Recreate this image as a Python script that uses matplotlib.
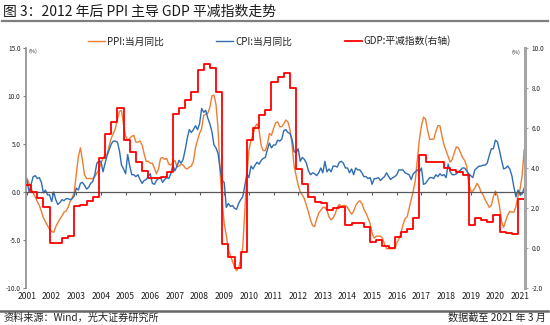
import numpy as np
import matplotlib
matplotlib.use('Agg')
import matplotlib.pyplot as plt
from matplotlib.lines import Line2D

plt.rcParams['font.family'] = ['Noto Sans CJK SC', 'DejaVu Sans']

# PPI 当月同比，2001-01 ~ 2021-03
ppi = [1.4, 0.9, 0.4, -0.1, -0.5, -1.0, -1.4, -2.0, -2.7, -3.1, -3.5, -3.9,
       -4.1, -4.2, -3.6, -3.2, -2.8, -2.5, -2.1, -2.0, -1.6, -1.0, -0.6, 0.0,
       1.9, 3.7, 4.6, 3.3, 1.8, 1.4, 1.4, 1.4, 1.4, 1.6, 2.0, 2.3,
       3.0, 3.5, 3.9, 3.9, 4.8, 5.6, 6.1, 6.6, 7.6, 8.4, 8.5, 7.0,
       5.8, 5.4, 5.6, 5.8, 5.9, 5.2, 5.2, 5.3, 4.9, 4.0, 3.2, 3.2,
       3.0, 3.0, 2.5, 1.9, 2.4, 3.5, 3.6, 3.4, 3.5, 2.9, 2.8, 3.1,
       3.3, 2.6, 2.7, 2.9, 2.8, 2.5, 2.4, 2.6, 2.7, 3.2, 4.6, 5.4,
       6.1, 6.6, 8.0, 8.1, 8.2, 8.8, 10.0, 10.1, 9.1, 6.6, 2.0, -1.1,
       -3.3, -4.5, -6.0, -6.6, -7.2, -7.8, -8.2, -7.9, -7.0, -5.8, -2.1, 1.7,
       4.3, 5.4, 5.9, 6.8, 7.1, 6.4, 4.8, 4.3, 4.3, 5.0, 6.1, 5.9,
       6.6, 7.2, 7.3, 6.8, 6.8, 7.1, 7.5, 7.3, 6.5, 5.0, 2.7, 1.7,
       0.7, 0.0, -0.3, -0.7, -1.4, -2.1, -2.9, -3.5, -3.6, -2.8, -2.2, -1.9,
       -1.6, -1.6, -1.9, -2.6, -2.9, -2.7, -2.3, -1.6, -1.3, -1.5, -1.4, -1.4,
       -1.6, -2.0, -2.3, -2.0, -1.4, -1.1, -0.9, -1.2, -1.8, -2.2, -2.7, -3.3,
       -4.3, -4.8, -4.6, -4.6, -4.6, -4.8, -5.4, -5.9, -5.9, -5.9, -5.9, -5.9,
       -5.3, -4.9, -4.3, -3.4, -2.8, -2.6, -1.7, -0.8, 0.1, 1.2, 3.3, 5.5,
       6.9, 7.8, 7.6, 6.4, 5.5, 5.5, 5.5, 6.3, 6.9, 6.9, 5.8, 4.9,
       4.3, 3.7, 3.1, 3.4, 4.1, 4.7, 4.6, 4.1, 3.6, 3.3, 2.7, 0.9,
       0.1, 0.1, 0.4, 0.9, 0.6, 0.0, -0.3, -0.8, -1.2, -1.6, -1.4, -0.5,
       0.1, -0.4, -1.5, -3.1, -3.7, -3.0, -2.4, -2.0, -2.1, -2.1, -1.5, -0.4,
       0.3, 1.7, 4.4]

# CPI 当月同比，2001-01 ~ 2021-03
cpi = [1.2, 0.0, 0.8, 1.6, 1.7, 1.4, 1.5, 1.0, -0.1, 0.2, -0.3, -0.3,
       -1.0, 0.0, -0.8, -1.3, -1.1, -0.8, -0.9, -0.7, -0.7, -0.8, -0.7, -0.4,
       0.4, 0.2, 0.9, 1.0, 0.7, 0.3, 0.5, 0.9, 1.1, 1.8, 3.0, 3.2,
       3.2, 2.1, 3.0, 3.8, 4.4, 5.0, 5.3, 5.3, 5.2, 4.3, 2.8, 2.4,
       1.9, 3.9, 2.7, 1.8, 1.8, 1.6, 1.8, 1.3, 0.9, 1.2, 1.3, 1.6,
       1.9, 0.9, 0.8, 1.2, 1.4, 1.5, 1.0, 1.3, 1.5, 1.4, 1.9, 2.8,
       2.2, 2.7, 3.3, 3.0, 3.4, 4.4, 5.6, 6.5, 6.2, 6.5, 6.9, 6.5,
       7.1, 8.7, 8.3, 8.5, 7.7, 7.1, 6.3, 4.9, 4.6, 4.0, 2.4, 1.2,
       1.0, -1.6, -1.2, -1.5, -1.4, -1.7, -1.8, -1.2, -0.8, -0.5, 0.6, 1.9,
       1.5, 2.7, 2.4, 2.8, 3.1, 2.9, 3.3, 3.5, 3.6, 4.4, 5.1, 4.6,
       4.9, 4.9, 5.4, 5.3, 5.5, 6.4, 6.5, 6.2, 6.1, 5.5, 4.2, 4.1,
       4.5, 3.2, 3.6, 3.4, 3.0, 2.2, 1.8, 2.0, 1.9, 1.7, 2.0, 2.5,
       2.0, 3.2, 2.1, 2.4, 2.1, 2.7, 2.7, 2.6, 3.1, 3.2, 3.0, 2.5,
       2.5, 2.0, 2.4, 1.8, 2.5, 2.3, 2.3, 2.0, 1.6, 1.6, 1.4, 1.5,
       0.8, 1.4, 1.4, 1.5, 1.2, 1.4, 1.6, 2.0, 1.6, 1.3, 1.5, 1.6,
       1.8, 2.3, 2.3, 2.3, 2.0, 1.9, 1.8, 1.3, 1.9, 2.1, 2.3, 2.1,
       2.5, 0.8, 0.9, 1.2, 1.5, 1.5, 1.4, 1.8, 1.6, 1.9, 1.7, 1.8,
       1.5, 2.9, 2.1, 1.8, 1.8, 1.9, 2.1, 2.3, 2.5, 2.5, 2.2, 1.9,
       1.7, 1.5, 2.3, 2.5, 2.7, 2.7, 2.8, 2.8, 3.0, 3.8, 4.5, 4.5,
       5.4, 5.2, 4.3, 3.3, 2.4, 2.5, 2.7, 2.4, 1.7, 0.5, -0.5, 0.2,
       -0.3, -0.2, 0.4]

# GDP 平减指数（季度，2000-12 起每季末一个值），右轴
gdp = [3.15,
       2.82, 2.48, 2.07, 0.23,
       0.27, 0.48, 0.62, 2.10,
       2.15, 2.35, 2.57, 4.50,
       5.70, 6.30, 7.00, 5.40,
       4.82, 4.32, 3.85, 3.50,
       3.50, 3.57, 3.80, 6.70,
       7.00, 7.40, 7.80, 8.90,
       9.20, 9.00, 7.80, 0.20,
       -0.45, -1.00, -0.20, 5.40,
       6.00, 6.65, 6.90, 8.30,
       8.57, 8.73, 8.00, 3.95,
       3.20, 2.57, 2.32, 2.25,
       1.90, 2.00, 2.07, 1.15,
       1.25, 1.25, 1.05, 0.30,
       0.40, 0.12, 0.00, 0.57,
       0.80, 0.95, 1.50, 4.65,
       4.32, 4.30, 4.30, 4.00,
       3.90, 3.80, 3.65, 1.15,
       1.48, 1.40, 1.32, 1.65,
       0.82, 0.75, 0.70, 2.45]

years = list(range(2001, 2022))

c_ppi = '#ED7D31'
c_cpi = '#2E6DB4'
c_gdp = '#FF0000'

month_x = 2001 + np.arange(len(ppi)) / 12
q_x = 2000 + 11 / 12 + np.arange(len(gdp)) * 0.25
q_x = np.append(q_x, month_x[-1])
q_y = np.append(gdp, gdp[-1])

fig = plt.figure(figsize=(5.5, 3.25), dpi=100)
ax = fig.add_axes([26 / 550, 1 - 288 / 325, 499 / 550, 240 / 325])

ax.plot(month_x, ppi, color=c_ppi, lw=1.0)
ax.plot(month_x, cpi, color=c_cpi, lw=1.0)

ax.set_xlim(2001 - 1 / 24.65, 2021.2)
ax.set_ylim(-10, 15)
ax.set_yticks(np.arange(-10, 16, 5))
ax.set_yticklabels([f'{v:.1f}' for v in np.arange(-10, 16, 5)])
ax.tick_params(axis='y', direction='out', length=2.5, width=0.8,
               color='#808080', labelsize=4.6, pad=1.5, labelcolor='#222222')

# x 轴放在 0 线上，年份标签放在底部
ax.spines['top'].set_visible(False)
ax.spines['right'].set_visible(False)
ax.spines['left'].set_color('#8c8c8c')
ax.spines['left'].set_linewidth(1.2)
ax.spines['bottom'].set_position(('data', 0))
ax.spines['bottom'].set_color('#595959')
ax.spines['bottom'].set_linewidth(0.9)
ax.set_xticks(years)
ax.tick_params(axis='x', direction='out', length=2.5, width=0.8,
               color='#595959', labelbottom=False)

sec = ax.secondary_xaxis('bottom')
sec.set_xticks(years)
sec.set_xticklabels([str(y) for y in years])
sec.tick_params(axis='x', length=0, pad=3.2, labelsize=6.2,
                labelcolor='#222222')
sec.spines['bottom'].set_visible(False)

ax2 = ax.twinx()
ax2.step(q_x, q_y, where='post', color=c_gdp, lw=1.3)
ax2.set_ylim(-2, 10)
ax2.set_yticks(np.arange(-2, 11, 2))
ax2.set_yticklabels([f'{v:.1f}' for v in np.arange(-2, 11, 2)])
ax2.tick_params(axis='y', direction='out', length=2.5, width=0.8,
                color='#a0a0a0', labelsize=4.6, pad=2, labelcolor='#222222')
for s in ['top', 'left', 'bottom']:
    ax2.spines[s].set_visible(False)
ax2.spines['right'].set_color('#a6a6a6')
ax2.spines['right'].set_linewidth(2.2)

ax.text(0.006, 0.985, '(%)', transform=ax.transAxes, fontsize=4,
        ha='left', va='center', color='#222222')
ax2.text(0.99, 0.981, '(%)', transform=ax2.transAxes, fontsize=4,
         ha='right', va='center', color='#222222')

handles = [Line2D([], [], color=c_ppi, lw=1.0),
           Line2D([], [], color=c_cpi, lw=1.0),
           Line2D([], [], color=c_gdp, lw=1.3)]
labels = ['PPI:当月同比', 'CPI:当月同比', 'GDP:平减指数(右轴)']
fig.legend(handles, labels, ncol=3, loc='center',
           bbox_to_anchor=(0.49, 1 - 41 / 325), frameon=False,
           fontsize=7, handlelength=1.75, handletextpad=0.2,
           columnspacing=5.4, borderpad=0, labelcolor='#222222')

# 标题与页脚
fig.text(3 / 550, 1 - 12 / 325, '图 3：2012 年后 PPI 主导 GDP 平减指数走势',
         fontsize=10, ha='left', va='center', color='#1a1a1a',
         fontweight='medium')
fig.add_artist(Line2D([2 / 550, 548 / 550], [1 - 21 / 325, 1 - 21 / 325],
                      color='#7f7f7f', lw=1.6))
fig.add_artist(Line2D([0, 548 / 550], [1 - 311 / 325, 1 - 311 / 325],
                      color='#666666', lw=1.8))
fig.text(3 / 550, 1 - 318 / 325, '资料来源：Wind，光大证券研究所',
         fontsize=7.3, ha='left', va='center', color='#222222')
fig.text(546 / 550, 1 - 318 / 325, '数据截至 2021 年 3 月',
         fontsize=7.3, ha='right', va='center', color='#222222')

fig.savefig('out.png', dpi=100)
